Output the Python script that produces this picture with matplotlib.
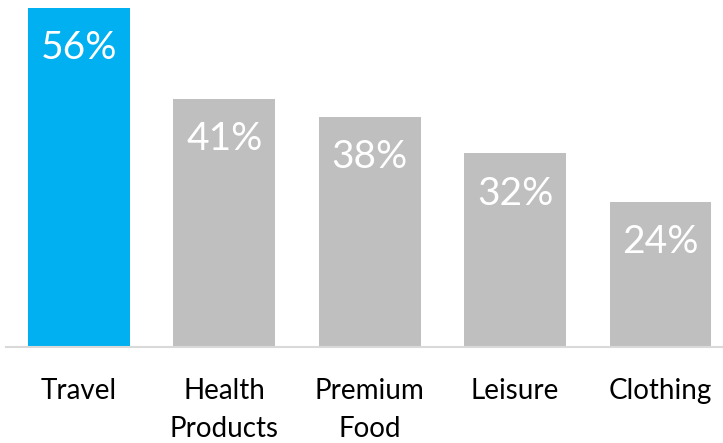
import matplotlib
matplotlib.use("Agg")
import matplotlib.pyplot as plt

categories = ["Travel", "Health\nProducts", "Premium\nFood", "Leisure", "Clothing"]
values = [56, 41, 38, 32, 24]
colors = ["#00B0F0", "#BFBFBF", "#BFBFBF", "#BFBFBF", "#BFBFBF"]

plt.rcParams['font.family'] = ['Lato', 'DejaVu Sans']

W, H = 723, 443
fig = plt.figure(figsize=(W / 100, H / 100), dpi=100)
left, right = 6, 723
base, top = 347, 8
ax = fig.add_axes([left / W, (H - base) / H, (right - left) / W, (base - top) / H])

x = list(range(len(values)))
ax.bar(x, values, width=0.70, color=colors)
ax.set_xlim(-0.502, 4.43)
ax.set_ylim(0, 56)

for xi, v in zip(x, values):
    ax.annotate(f"{v}%", (xi, v), xytext=(0, -16), textcoords="offset points",
                ha="center", va="top", color="white", fontsize=28)

ax.set_xticks(x)
ax.set_xticklabels(categories, fontsize=20, color="#000000", linespacing=1.6, va="top")
ax.tick_params(axis="x", length=0, pad=22)
ax.set_yticks([])
for s in ["top", "right", "left"]:
    ax.spines[s].set_visible(False)
ax.spines["bottom"].set_color("#D9D9D9")
ax.spines["bottom"].set_linewidth(1.5)

fig.savefig("out.png", dpi=100)
